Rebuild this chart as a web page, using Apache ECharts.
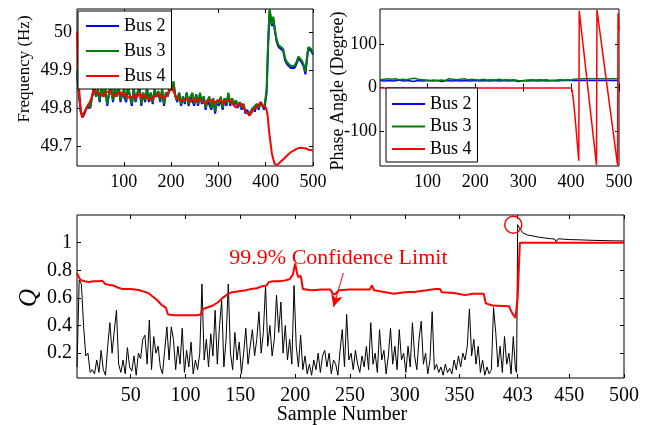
<!DOCTYPE html>
<html><head><meta charset="utf-8">
<script src="https://cdn.jsdelivr.net/npm/echarts@6/dist/echarts.min.js"></script>
<style>html,body{margin:0;padding:0;background:#fff}#c{width:647px;height:425px}</style>
</head><body><div id="c"></div>
<script>
// ---------- data ----------
const seriesNames = ['Bus 2', 'Bus 3', 'Bus 4'];
const freqTicksX = [100, 200, 300, 400, 500];
const freqTicksY = [49.7, 49.8, 49.9, 50];
const phaseTicksX = [100, 200, 300, 400, 500];
const phaseTicksY = [-100, 0, 100];
const qTicksX = [50, 100, 150, 200, 250, 300, 350, 403, 450, 500];
const qTicksY = [0.2, 0.4, 0.6, 0.8, 1];

const freqBus3 = [[1,49.90],[5,49.84],[9,49.79],[13,49.78],[17,49.785],[21,49.80],[25,49.81],[29,49.80],[33,49.83],[37,49.86],[41,49.83],[45,49.85],[49,49.82],[53,49.86],[57,49.83],[61,49.85],[65,49.81],[69,49.84],[73,49.86],[77,49.82],[81,49.85],[85,49.83],[89,49.86],[93,49.82],[97,49.84],[101,49.85],[105,49.82],[109,49.86],[113,49.83],[117,49.81],[121,49.85],[125,49.82],[129,49.84],[133,49.86],[137,49.81],[141,49.84],[145,49.82],[149,49.855],[153,49.82],[157,49.84],[161,49.815],[165,49.85],[169,49.83],[173,49.845],[177,49.82],[181,49.85],[185,49.81],[189,49.84],[193,49.83],[197,49.86],[201,49.845],[205,49.87],[209,49.83],[213,49.82],[217,49.84],[221,49.81],[225,49.83],[229,49.815],[233,49.84],[237,49.81],[241,49.83],[245,49.84],[249,49.81],[253,49.835],[257,49.81],[261,49.84],[265,49.815],[269,49.83],[273,49.80],[277,49.82],[281,49.83],[285,49.80],[289,49.825],[293,49.79],[297,49.82],[301,49.81],[305,49.83],[309,49.80],[313,49.825],[317,49.81],[321,49.84],[325,49.81],[329,49.825],[333,49.81],[337,49.82],[341,49.805],[345,49.815],[349,49.80],[353,49.81],[357,49.79],[361,49.795],[365,49.785],[369,49.79],[373,49.80],[377,49.795],[381,49.81],[385,49.80],[389,49.815],[393,49.81],[397,49.80],[400,49.80],[402,49.85],[405,49.97],[408,50.06],[411,50.04],[413,50.02],[416,50.04],[419,50.01],[423,49.98],[427,49.965],[432,49.96],[437,49.955],[441,49.93],[445,49.92],[449,49.925],[453,49.91],[457,49.915],[461,49.91],[465,49.92],[469,49.935],[473,49.94],[476,49.925],[480,49.915],[484,49.895],[487,49.93],[490,49.96],[493,49.965],[496,49.955],[500,49.945]];
const freqBus2 = [[1,49.89],[5,49.835],[9,49.79],[13,49.775],[17,49.785],[21,49.80],[25,49.805],[29,49.80],[33,49.83],[37,49.855],[41,49.83],[45,49.845],[49,49.815],[53,49.86],[57,49.83],[61,49.845],[65,49.805],[69,49.84],[73,49.855],[77,49.815],[81,49.85],[85,49.83],[89,49.855],[93,49.815],[97,49.84],[101,49.845],[105,49.815],[109,49.855],[113,49.83],[117,49.805],[121,49.85],[125,49.815],[129,49.84],[133,49.855],[137,49.805],[141,49.84],[145,49.815],[149,49.85],[153,49.815],[157,49.84],[161,49.81],[165,49.845],[169,49.83],[173,49.84],[177,49.815],[181,49.845],[185,49.805],[189,49.84],[193,49.83],[197,49.855],[201,49.845],[205,49.865],[209,49.83],[213,49.815],[217,49.84],[221,49.805],[225,49.83],[229,49.81],[233,49.84],[237,49.805],[241,49.83],[245,49.835],[249,49.805],[253,49.835],[257,49.805],[261,49.835],[265,49.81],[269,49.83],[273,49.795],[277,49.82],[281,49.825],[285,49.795],[289,49.825],[293,49.785],[297,49.82],[301,49.805],[305,49.825],[309,49.795],[313,49.825],[317,49.805],[321,49.835],[325,49.805],[329,49.825],[333,49.805],[337,49.82],[341,49.80],[345,49.815],[349,49.795],[353,49.81],[357,49.785],[361,49.795],[365,49.78],[369,49.79],[373,49.80],[377,49.79],[381,49.81],[385,49.795],[389,49.815],[393,49.805],[397,49.795],[400,49.795],[402,49.84],[405,49.96],[408,50.05],[411,50.035],[413,50.015],[416,50.035],[419,50.005],[423,49.975],[427,49.96],[432,49.955],[437,49.95],[441,49.925],[445,49.915],[449,49.92],[453,49.905],[457,49.91],[461,49.905],[465,49.915],[469,49.93],[473,49.935],[476,49.92],[480,49.91],[484,49.888],[487,49.925],[490,49.955],[493,49.96],[496,49.95],[500,49.94]];
const freqBus4 = [[1,50.0],[3,49.92],[6,49.84],[9,49.79],[12,49.775],[15,49.78],[18,49.79],[22,49.80],[26,49.805],[30,49.82],[34,49.835],[38,49.85],[42,49.84],[46,49.845],[50,49.835],[54,49.84],[58,49.83],[62,49.84],[66,49.835],[70,49.845],[74,49.835],[78,49.84],[82,49.83],[86,49.84],[90,49.835],[94,49.84],[98,49.83],[102,49.84],[106,49.83],[110,49.835],[114,49.825],[118,49.83],[122,49.835],[126,49.825],[130,49.83],[134,49.84],[138,49.825],[142,49.83],[146,49.835],[150,49.825],[154,49.83],[158,49.82],[162,49.83],[166,49.835],[170,49.83],[174,49.84],[178,49.83],[182,49.835],[186,49.825],[190,49.83],[194,49.84],[198,49.845],[202,49.855],[206,49.84],[210,49.83],[214,49.825],[218,49.82],[222,49.825],[226,49.82],[230,49.815],[234,49.825],[238,49.82],[242,49.815],[246,49.825],[250,49.82],[254,49.815],[258,49.825],[262,49.82],[266,49.815],[270,49.82],[274,49.81],[278,49.82],[282,49.815],[286,49.82],[290,49.81],[294,49.815],[298,49.82],[302,49.815],[306,49.82],[310,49.81],[314,49.815],[318,49.82],[322,49.815],[326,49.82],[330,49.81],[334,49.815],[338,49.80],[342,49.81],[346,49.805],[350,49.81],[354,49.80],[358,49.79],[362,49.785],[366,49.78],[370,49.785],[374,49.795],[378,49.80],[382,49.805],[386,49.81],[390,49.815],[394,49.805],[398,49.81],[401,49.80],[404,49.78],[407,49.74],[410,49.71],[413,49.68],[416,49.665],[419,49.652],[422,49.648],[425,49.65],[430,49.656],[435,49.662],[440,49.668],[445,49.674],[450,49.68],[455,49.685],[460,49.688],[465,49.692],[470,49.694],[475,49.695],[480,49.694],[485,49.693],[490,49.69],[495,49.689],[500,49.688]];

const phaseBus2 = [[1,16],[10,15],[20,16],[30,15],[40,17],[50,15],[60,16],[70,14],[80,16],[90,15],[100,16],[110,15],[120,16],[130,14],[140,16],[150,15],[160,16],[170,15],[180,16],[190,15],[200,16],[210,15],[220,16],[230,15],[240,16],[250,15],[260,16],[270,15],[280,16],[290,14],[300,16],[310,15],[320,16],[330,15],[340,16],[350,15],[360,16],[370,15],[380,16],[390,16],[400,16],[410,16],[420,16],[440,16],[460,16],[480,16],[500,16]];
const phaseBus3 = [[1,18],[5,14],[9,19],[13,17],[17,20],[21,16],[25,19],[29,17],[33,20],[37,16],[41,18],[45,17],[49,19],[53,16],[57,18],[61,17],[65,20],[69,18],[73,21],[77,17],[81,19],[85,16],[89,18],[93,20],[97,17],[101,19],[105,16],[109,18],[113,17],[117,19],[121,16],[125,18],[129,17],[133,19],[137,16],[141,18],[145,20],[149,17],[153,19],[157,16],[161,18],[165,17],[169,19],[173,17],[177,20],[181,16],[185,18],[189,17],[193,19],[197,17],[201,18],[209,17],[217,19],[225,17],[233,18],[241,17],[249,19],[257,17],[265,18],[273,17],[281,18],[289,16],[293,19],[297,15],[301,18],[309,17],[317,18],[325,17],[333,18],[341,17],[349,18],[357,16],[361,18],[369,17],[377,18],[385,17],[393,18],[400,17],[405,19],[420,20],[440,20],[460,20],[480,20],[500,20]];
const phaseBus4 = [[1,-1],[100,-1],[200,-1],[300,-1],[400,-1],[402,-6],[405,-30],[410,-90],[416,-168],[417,176],[453,-178],[454,178],[497,-178],[498,170],[500,132]];

const qStatistic = [[1,0.10],[3,0.73],[5,0.70],[7,0.40],[9,0.18],[11,0.20],[13,0.06],[15,0.08],[17,0.05],[19,0.15],[21,0.06],[23,0.22],[25,0.08],[27,0.04],[29,0.25],[31,0.42],[33,0.20],[35,0.36],[37,0.51],[39,0.12],[41,0.06],[43,0.15],[45,0.05],[47,0.24],[49,0.10],[51,0.07],[53,0.18],[55,0.04],[57,0.20],[59,0.16],[61,0.30],[63,0.33],[65,0.12],[67,0.44],[69,0.08],[71,0.32],[73,0.20],[75,0.25],[77,0.10],[79,0.05],[81,0.22],[83,0.39],[85,0.15],[87,0.39],[89,0.30],[91,0.08],[93,0.25],[95,0.12],[97,0.38],[99,0.06],[101,0.22],[103,0.10],[105,0.28],[107,0.05],[109,0.15],[111,0.08],[113,0.20],[115,0.70],[117,0.15],[119,0.30],[121,0.10],[123,0.34],[125,0.18],[127,0.51],[129,0.12],[131,0.40],[133,0.58],[135,0.10],[137,0.30],[139,0.70],[141,0.20],[143,0.08],[145,0.35],[147,0.15],[149,0.28],[151,0.05],[153,0.20],[155,0.38],[157,0.12],[159,0.25],[161,0.37],[163,0.18],[165,0.30],[167,0.50],[169,0.20],[171,0.35],[173,0.69],[175,0.25],[177,0.40],[179,0.18],[181,0.30],[183,0.62],[185,0.35],[187,0.57],[189,0.20],[191,0.40],[193,0.15],[195,0.30],[197,0.12],[199,0.69],[201,0.25],[203,0.10],[205,0.33],[207,0.08],[209,0.18],[211,0.05],[213,0.12],[215,0.04],[217,0.15],[219,0.08],[221,0.20],[223,0.06],[225,0.18],[227,0.22],[229,0.10],[231,0.20],[233,0.05],[235,0.15],[237,0.12],[239,0.04],[241,0.22],[243,0.37],[245,0.10],[247,0.48],[249,0.15],[251,0.20],[253,0.08],[255,0.22],[257,0.12],[259,0.06],[261,0.18],[263,0.10],[265,0.25],[267,0.08],[269,0.42],[271,0.12],[273,0.20],[275,0.06],[277,0.37],[279,0.15],[281,0.22],[283,0.05],[285,0.18],[287,0.38],[289,0.12],[291,0.25],[293,0.08],[295,0.37],[297,0.15],[299,0.20],[301,0.06],[303,0.25],[305,0.10],[307,0.42],[309,0.18],[311,0.08],[313,0.30],[315,0.43],[317,0.12],[319,0.20],[321,0.05],[323,0.15],[325,0.50],[327,0.08],[329,0.12],[331,0.06],[333,0.10],[335,0.04],[337,0.12],[339,0.06],[341,0.09],[343,0.05],[345,0.15],[347,0.08],[349,0.18],[351,0.10],[353,0.20],[355,0.15],[357,0.25],[359,0.52],[361,0.18],[363,0.30],[365,0.12],[367,0.25],[369,0.06],[371,0.15],[373,0.04],[375,0.10],[377,0.05],[379,0.08],[381,0.53],[383,0.35],[385,0.10],[387,0.25],[389,0.06],[391,0.32],[393,0.12],[395,0.20],[397,0.05],[399,0.32],[401,0.08],[402,0.06],[403,1.13],[405,1.10],[408,1.07],[412,1.055],[417,1.048],[422,1.04],[428,1.033],[434,1.028],[437,1.025],[438,1.005],[440,1.028],[445,1.025],[450,1.022],[460,1.02],[470,1.017],[480,1.015],[490,1.013],[500,1.012]];
const qLimit = [[1,0.78],[4,0.73],[8,0.72],[12,0.715],[16,0.72],[20,0.72],[24,0.725],[27,0.70],[30,0.695],[34,0.69],[38,0.675],[42,0.665],[46,0.665],[50,0.665],[54,0.66],[58,0.655],[62,0.645],[66,0.635],[70,0.61],[74,0.585],[78,0.55],[82,0.53],[84,0.48],[90,0.475],[100,0.475],[110,0.475],[114,0.48],[116,0.52],[120,0.53],[125,0.545],[130,0.57],[134,0.60],[138,0.625],[142,0.64],[146,0.645],[150,0.65],[155,0.655],[160,0.665],[165,0.67],[170,0.685],[174,0.69],[176,0.715],[180,0.72],[186,0.72],[190,0.725],[195,0.735],[198,0.77],[200,0.85],[202,0.77],[203,0.75],[205,0.76],[206,0.72],[207,0.665],[215,0.655],[225,0.66],[232,0.66],[235,0.625],[237,0.63],[240,0.655],[250,0.66],[260,0.66],[268,0.66],[270,0.69],[272,0.655],[280,0.645],[290,0.63],[300,0.64],[310,0.645],[320,0.655],[328,0.665],[332,0.665],[334,0.64],[345,0.635],[355,0.62],[362,0.63],[372,0.63],[374,0.56],[380,0.545],[395,0.54],[398,0.49],[401,0.455],[403,0.6],[405,1.0],[500,1.0]];

const limitLabel = '99.9% Confidence Limit';
const limitLabelAt = [140, 0.884];
const arrowFrom = [244, 0.78];
const arrowTo = [235, 0.535];
const circleAt = [399, 1.13];

// ---------- chart ----------
const FONT = 'Liberation Serif';
const chart = echarts.init(document.getElementById('c'), null, {renderer: 'canvas'});
const grids = [
  {left: 77, top: 9, width: 236, height: 157},
  {left: 380, top: 9, width: 239, height: 157},
  {left: 77, top: 215, width: 547, height: 163}
];
function fmt(v){ return String(+(+v).toFixed(2)); }
function ax(g, min, max, ticks, fs, margin, pos, showLabel){
  return {type:'value', gridIndex:g, min, max, position:pos,
    axisLine:{show:false}, splitLine:{show:false},
    axisTick:{show:true, inside:true, length:4, customValues:ticks, lineStyle:{color:'#000', width:1}},
    axisLabel:{show:showLabel, customValues:ticks, margin, color:'#000', fontFamily:FONT, fontSize:fs, formatter:fmt}};
}
const colors = {'Bus 2':'#0000ff', 'Bus 3':'#008000', 'Bus 4':'#ff0000'};
function line(name, data, xi, yi, color, w){
  return {type:'line', name, data, xAxisIndex:xi, yAxisIndex:yi, symbol:'none', showSymbol:false,
    lineStyle:{color, width:w}, itemStyle:{color}, animation:false, silent:true};
}
const legendBase = {orient:'vertical', backgroundColor:'#fff', borderColor:'#000', borderWidth:1,
  borderRadius:0, icon:'rect', itemWidth:33, itemHeight:2, data:seriesNames,
  textStyle:{fontFamily:FONT, fontSize:18, color:'#000', lineHeight:18}};

const option = {
  animation:false,
  backgroundColor:'#fff',
  grid: grids.map(g => Object.assign({show:true, borderColor:'#000', borderWidth:1, backgroundColor:'transparent'}, g)),
  xAxis: [
    ax(0, 1, 500, freqTicksX, 18, 7, 'bottom', true),
    ax(0, 1, 500, freqTicksX, 18, 7, 'top', false),
    ax(1, 1, 500, phaseTicksX, 18, 7, 'bottom', true),
    ax(1, 1, 500, phaseTicksX, 18, 7, 'top', false),
    ax(2, 1, 500, qTicksX, 20, 8, 'bottom', true),
    ax(2, 1, 500, qTicksX, 20, 8, 'top', false)
  ],
  yAxis: [
    ax(0, 49.647, 50.06, freqTicksY, 18, 5, 'left', true),
    ax(0, 49.647, 50.06, freqTicksY, 18, 5, 'right', false),
    ax(1, -180, 180, phaseTicksY, 18, 3, 'left', true),
    ax(1, -180, 180, phaseTicksY, 18, 3, 'right', false),
    ax(2, 0.02, 1.2, qTicksY, 20, 5, 'left', true),
    ax(2, 0.02, 1.2, qTicksY, 20, 5, 'right', false)
  ],
  legend: [
    Object.assign({}, legendBase, {left:78, top:11, itemGap:7, padding:[6, 6, 4, 8]}),
    Object.assign({}, legendBase, {left:386, top:88, itemGap:4.5, padding:[7, 6, 4, 6]})
  ],
  series: [
    line('Bus 2', freqBus2, 0, 0, colors['Bus 2'], 2),
    line('Bus 3', freqBus3, 0, 0, colors['Bus 3'], 2),
    line('Bus 4', freqBus4, 0, 0, colors['Bus 4'], 2),
    line('Bus 2', phaseBus2, 2, 2, colors['Bus 2'], 1.5),
    line('Bus 3', phaseBus3, 2, 2, colors['Bus 3'], 1.5),
    line('Bus 4', phaseBus4, 2, 2, colors['Bus 4'], 1.5),
    Object.assign(line('Q', qStatistic, 4, 4, '#000', 1), {
      markPoint:{silent:true, animation:false, symbol:'circle', symbolSize:17,
        itemStyle:{color:'transparent', borderColor:'#ff0000', borderWidth:1.5},
        label:{show:false}, data:[{coord:circleAt}]}
    }),
    Object.assign(line('Limit', qLimit, 4, 4, '#ff0000', 2), {
      markLine:{silent:true, animation:false, symbol:['none','arrow'], symbolSize:[9, 12],
        lineStyle:{color:'#ff0000', width:1, type:'solid'}, label:{show:false},
        data:[[{coord:arrowFrom}, {coord:arrowTo}]]},
      markPoint:{silent:true, animation:false, symbol:'circle', symbolSize:0,
        label:{show:true, position:'inside', align:'left', verticalAlign:'middle', formatter:limitLabel,
          color:'#ff0000', fontFamily:FONT, fontSize:22},
        data:[{coord:limitLabelAt}]}
    })
  ],
  graphic: [
    {type:'text', x:25, y:69, rotation:Math.PI/2, style:{text:'Frequency (Hz)', fontFamily:FONT, fontSize:17, fill:'#000', align:'center', verticalAlign:'middle'}},
    {type:'text', x:338, y:91, rotation:Math.PI/2, style:{text:'Phase Angle (Degree)', fontFamily:FONT, fontSize:18, fill:'#000', align:'center', verticalAlign:'middle'}},
    {type:'text', x:29, y:298, rotation:Math.PI/2, style:{text:'Q', fontFamily:FONT, fontStyle:'italic', fontSize:25, fill:'#000', align:'center', verticalAlign:'middle'}},
    {type:'text', x:342, y:415, style:{text:'Sample Number', fontFamily:FONT, fontSize:20, fill:'#000', align:'center', verticalAlign:'middle'}}
  ]
};
chart.setOption(option);
</script>
</body></html>
